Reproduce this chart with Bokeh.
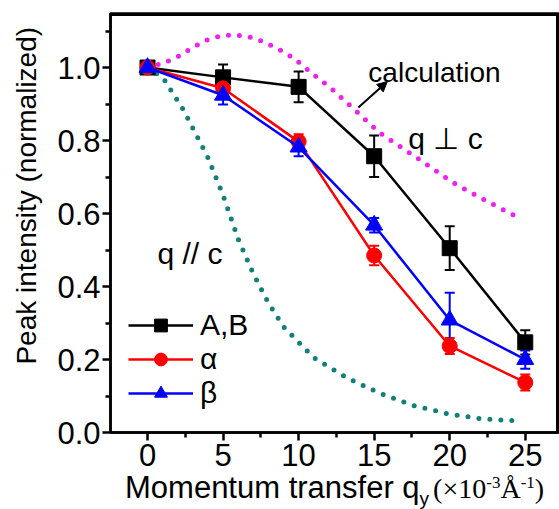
from bokeh.plotting import figure
from bokeh.layouts import column
from bokeh.models import (Range1d, Whisker, TeeHead, Label, Arrow, NormalHead,
                          Legend, LegendItem, ColumnDataSource, FixedTicker,
                          Span, Div)
from bokeh.embed import file_html
from bokeh.resources import INLINE

# ---------------- data ----------------
q = [0, 5, 10, 15, 20, 25]
ab = [1.0, 0.973, 0.947, 0.757, 0.505, 0.247]
ab_err = [0.0, 0.035, 0.042, 0.057, 0.060, 0.033]
alpha = [1.0, 0.943, 0.797, 0.485, 0.237, 0.137]
alpha_err = [0.0, 0.020, 0.020, 0.027, 0.022, 0.022]
beta = [1.0, 0.924, 0.782, 0.568, 0.308, 0.200]
beta_err = [0.0, 0.025, 0.025, 0.020, 0.075, 0.025]

# calculation, q perpendicular to c (magenta dotted)
perp_q = [0, 1.06, 1.98, 3.0, 3.97, 4.8, 5.7, 6.7, 7.7, 8.7, 9.7, 11.0, 12.1,
          13.9, 15.4, 17.6, 20.2, 22.0, 24.4]
perp_v = [1.0, 1.012, 1.029, 1.055, 1.076, 1.086, 1.090, 1.084, 1.070, 1.050,
          1.025, 0.980, 0.945, 0.877, 0.820, 0.759, 0.685, 0.644, 0.592]
# calculation, q parallel to c (teal dotted)
par_q = [0, 1.06, 2.4, 4.0, 5.0, 6.0, 7.0, 8.0, 9.0, 11.0, 13.2, 15.4, 17.6,
         19.8, 22.0, 24.4]
par_v = [1.0, 0.970, 0.882, 0.753, 0.650, 0.530, 0.435, 0.355, 0.290, 0.205,
         0.150, 0.107, 0.074, 0.052, 0.038, 0.032]

x_ticks = [0, 5, 10, 15, 20, 25]
y_ticks = [0.0, 0.2, 0.4, 0.6, 0.8, 1.0]
X_MIN, X_MAX = -2.45, 27.2
Y_MIN, Y_MAX = 0.0, 1.148

SANS = "Liberation Sans"
SERIF = "Liberation Serif"

p = figure(width=559, height=479, output_backend="svg", toolbar_location=None,
           x_range=Range1d(X_MIN, X_MAX), y_range=Range1d(Y_MIN, Y_MAX),
           min_border_left=110, min_border_right=1, min_border_top=13,
           min_border_bottom=47)
p.grid.visible = False
p.outline_line_color = "black"
p.outline_line_width = 2.5
p.background_fill_color = "white"
p.border_fill_color = "white"

for ax in (p.xaxis[0], p.yaxis[0]):
    ax.axis_line_width = 2.5
    ax.axis_line_color = "black"
    ax.major_tick_line_width = 2.5
    ax.minor_tick_line_width = 2.5
    ax.major_tick_line_color = "black"
    ax.minor_tick_line_color = "black"
    ax.major_tick_in = 0
    ax.major_tick_out = 8
    ax.minor_tick_in = 0
    ax.minor_tick_out = 5
    ax.major_label_text_font = SANS
    ax.major_label_text_font_size = "31px"
    ax.major_label_text_color = "black"

p.xaxis.ticker = FixedTicker(ticks=x_ticks, minor_ticks=[2.5, 7.5, 12.5, 17.5, 22.5])
p.yaxis.ticker = FixedTicker(ticks=y_ticks, minor_ticks=[0.1, 0.3, 0.5, 0.7, 0.9, 1.1])
p.xaxis.major_label_standoff = 3
p.yaxis.major_label_standoff = 2
p.yaxis.major_label_overrides = {v: f"{v:.1f}" for v in y_ticks}
# leading no-break spaces move the centred title up, as in the original
p.yaxis.axis_label = "\u00a0" * 7 + "Peak intensity (normalized)"
p.yaxis.axis_label_text_font = SANS
p.yaxis.axis_label_text_font_size = "28px"
p.yaxis.axis_label_text_font_style = "normal"
p.yaxis.axis_label_text_color = "black"
p.yaxis.axis_label_standoff = 12

# top and right frame lines (half of the width falls inside the frame)
p.add_layout(Span(location=Y_MAX, dimension="width", line_color="black", line_width=5))
p.add_layout(Span(location=X_MAX, dimension="height", line_color="black", line_width=5))

# calculation curves
p.line(perp_q, perp_v, line_color="#f020f0", line_width=5, line_dash="0 11",
       line_cap="round")
p.line(par_q, par_v, line_color="#12807a", line_width=5, line_dash="0 11",
       line_cap="round")

series = [("A,B", ab, ab_err, "black", "square"),
          ("\u03b1", alpha, alpha_err, "red", "circle"),
          ("\u03b2", beta, beta_err, "blue", "triangle")]
items = []
for name, vals, err, col, mk in series:
    src = ColumnDataSource(dict(x=q, y=vals,
                                lo=[v - e for v, e in zip(vals, err)],
                                hi=[v + e for v, e in zip(vals, err)]))
    r1 = p.line("x", "y", source=src, line_color=col, line_width=2.5)
    w = Whisker(source=src, base="x", lower="lo", upper="hi", line_color=col,
                line_width=2,
                upper_head=TeeHead(size=10, line_color=col, line_width=2),
                lower_head=TeeHead(size=10, line_color=col, line_width=2))
    p.add_layout(w)
    size = 17 if mk == "triangle" else 15
    r2 = p.scatter("x", "y", source=src, marker=mk, size=size, fill_color=col,
                   line_color=col)
    items.append(LegendItem(label=name, renderers=[r1, r2]))

leg = Legend(items=items, location=(18, 22), padding=0, margin=0, spacing=0,
             glyph_width=65, glyph_height=32, label_height=32,
             label_standoff=7, label_text_font=SANS, label_text_color="black",
             label_text_font_size="30px", border_line_color=None,
             background_fill_alpha=0)
p.add_layout(leg)

# annotations inside the frame
def txt(s, xpx, ypx, size, font=SANS):
    p.add_layout(Label(x=(xpx - 147) / 15.12, y=(432 - ypx) / 365.0, text=s,
                       text_font=font, text_font_size=size,
                       text_baseline="alphabetic", text_align="left",
                       text_color="black"))

txt("calculation", 368, 72, "28px")
txt("q \u22a5 c", 408, 138, "30px")
txt("q // c", 157, 253, "30px")
p.add_layout(Arrow(end=NormalHead(size=10, fill_color="black", line_color="black"),
                   x_start=(358 - 147) / 15.12, y_start=(432 - 107) / 365.0,
                   x_end=(387 - 147) / 15.12, y_end=(432 - 81) / 365.0,
                   line_width=2))

# x-axis title (mixed fonts, sub/superscripts) as HTML below the figure
xlabel_html = (
    '<div style="position:relative; top:-8px; left:125px; white-space:nowrap; '
    'color:black; line-height:34px;">'
    '<span style="font-family:\'Liberation Sans\'; font-size:31px;">Momentum transfer q'
    '<span style="font-size:19px; position:relative; top:7px;">y</span></span>'
    '<span style="font-family:\'Liberation Serif\'; font-size:28px; margin-left:4px;">(\u00d710'
    '<span style="font-size:17px; position:relative; top:-10px;">-3</span>\u00c5'
    '<span style="font-size:17px; position:relative; top:-10px;">-1</span>)</span>'
    '</div>')
xlabel = Div(text=xlabel_html, width=559, height=30, margin=0,
             styles={"overflow": "visible"})

layout = column(p, xlabel, spacing=0)
open("out.html", "w").write(file_html(layout, INLINE))
